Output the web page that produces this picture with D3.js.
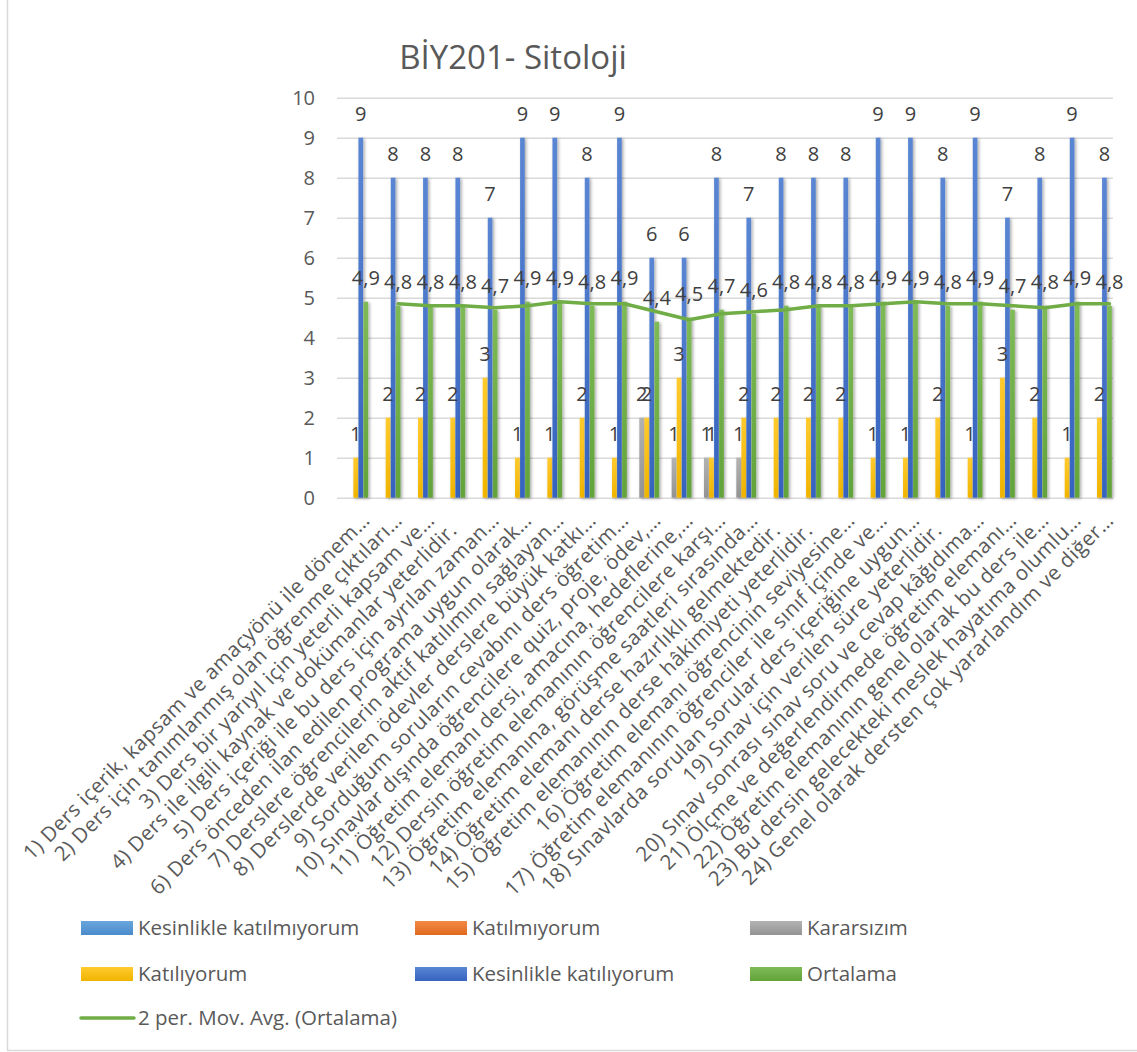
<!DOCTYPE html>
<html>
<head>
<meta charset="utf-8">
<script src="https://cdn.jsdelivr.net/npm/d3@7"></script>
<style>
  html, body { margin: 0; padding: 0; background: #fff; }
  svg { display: block; font-family: "Open Sans", "Noto Sans", sans-serif; }
</style>
</head>
<body>
<svg id="chart" width="1137" height="1052"></svg>
<script>
// ---------- DATA ----------
const chartTitle = "BİY201- Sitoloji";

const categories = [
  "1) Ders içerik, kapsam ve amaçyönü ile dönem…",
  "2) Ders için tanımlanmış olan öğrenme çıktıları…",
  "3) Ders bir yarıyıl için yeterli kapsam ve…",
  "4) Ders ile ilgili kaynak ve dokümanlar yeterlidir.",
  "5) Ders içeriği ile bu ders için ayrılan zaman…",
  "6) Ders önceden ilan edilen programa uygun olarak…",
  "7) Derslere öğrencilerin aktif katılımını sağlayan…",
  "8) Derslerde verilen ödevler derslere büyük katkı…",
  "9) Sorduğum soruların cevabını ders öğretim…",
  "10) Sınavlar dışında öğrencilere quiz, proje, ödev,…",
  "11) Öğretim elemanı dersi, amacına, hedeflerine,…",
  "12) Dersin öğretim elemanının öğrencilere karşı…",
  "13) Öğretim elemanına, görüşme saatleri sırasında…",
  "14) Öğretim elemanı derse hazırlıklı gelmektedir.",
  "15) Öğretim elemanının derse hâkimiyeti yeterlidir.",
  "16) Öğretim elemanı öğrencinin seviyesine…",
  "17) Öğretim elemanının öğrenciler ile sınıf içinde ve…",
  "18) Sınavlarda sorulan sorular ders içeriğine uygun…",
  "19) Sınav için verilen süre yeterlidir.",
  "20) Sınav sonrası sınav soru ve cevap kâğıdıma…",
  "21) Ölçme ve değerlendirmede öğretim elemanı…",
  "22) Öğretim elemanının genel olarak bu ders ile…",
  "23) Bu dersin gelecekteki meslek hayatıma olumlu…",
  "24) Genel olarak dersten çok yararlandım ve diğer…"
];

const seriesNames = [
  "Kesinlikle katılmıyorum",
  "Katılmıyorum",
  "Kararsızım",
  "Katılıyorum",
  "Kesinlikle katılıyorum",
  "Ortalama"
];

const kesinlikleKatilmiyorum = [null,null,null,null,null,null,null,null,null,null,null,null,null,null,null,null,null,null,null,null,null,null,null,null];
const katilmiyorum           = [null,null,null,null,null,null,null,null,null,null,null,null,null,null,null,null,null,null,null,null,null,null,null,null];
const kararsizim             = [null,null,null,null,null,null,null,null,null,2,1,1,1,null,null,null,null,null,null,null,null,null,null,null];
const katiliyorum            = [1,2,2,2,3,1,1,2,1,2,3,1,2,2,2,2,1,1,2,1,3,2,1,2];
const kesinlikleKatiliyorum  = [9,8,8,8,7,9,9,8,9,6,6,8,7,8,8,8,9,9,8,9,7,8,9,8];
const ortalama               = [4.9,4.8,4.8,4.8,4.7,4.9,4.9,4.8,4.9,4.4,4.5,4.7,4.6,4.8,4.8,4.8,4.9,4.9,4.8,4.9,4.7,4.8,4.9,4.8];

// 2-period moving average trendline of "Ortalama"
const trendName = "2 per. Mov. Avg. (Ortalama)";
const movAvg = [null,4.85,4.8,4.8,4.75,4.8,4.9,4.85,4.85,4.65,4.45,4.6,4.65,4.7,4.8,4.8,4.85,4.9,4.85,4.85,4.8,4.75,4.85,4.85];

const yTicks = [0,1,2,3,4,5,6,7,8,9,10];

// ---------- STYLE ----------
const seriesColors = {
  "Kesinlikle katılmıyorum": ["#6aa6dd", "#4a8bcb"],
  "Katılmıyorum":            ["#f28a45", "#e06a1e"],
  "Kararsızım":              ["#b3b3b3", "#939393"],
  "Katılıyorum":             ["#ffcb2e", "#f0b400"],
  "Kesinlikle katılıyorum":  ["#5a86d3", "#3563bf"],
  "Ortalama":                ["#7ebb57", "#62a33a"]
};
const trendColor = "#70AD47";
const textColor = "#595959";
const labelColor = "#404040";

const seriesData = [kesinlikleKatilmiyorum, katilmiyorum, kararsizim, katiliyorum, kesinlikleKatiliyorum, ortalama];

// ---------- LAYOUT ----------
const svg = d3.select("#chart");
const plot = { left: 337, right: 1113, top: 97.7, bottom: 497.7 };

const defs = svg.append("defs");
seriesNames.forEach((name, i) => {
  const g = defs.append("linearGradient").attr("id", "grad" + i)
    .attr("x1", 0).attr("y1", 0).attr("x2", 0).attr("y2", 1);
  g.append("stop").attr("offset", "0%").attr("stop-color", seriesColors[name][0]);
  g.append("stop").attr("offset", "100%").attr("stop-color", seriesColors[name][1]);
});
const sh = defs.append("filter").attr("id", "shadow")
  .attr("x", "-200%").attr("y", "-10%").attr("width", "500%").attr("height", "120%");
sh.append("feDropShadow").attr("dx", 1.5).attr("dy", 1).attr("stdDeviation", 1.6)
  .attr("flood-color", "#000").attr("flood-opacity", 0.35);

// chart frame
svg.append("rect")
  .attr("x", 7.5).attr("y", -10).attr("width", 1150).attr("height", 1060.5)
  .attr("fill", "none").attr("stroke", "#d9d9d9").attr("stroke-width", 1.5);

// title
svg.append("text")
  .attr("x", 513).attr("y", 69)
  .attr("text-anchor", "middle")
  .attr("font-size", 33)
  .attr("fill", textColor)
  .text(chartTitle);

// scales
const idx = categories.map((d, i) => i);
const x0 = d3.scaleBand().domain(idx).range([plot.left, plot.right])
  .paddingInner(0.073).paddingOuter(0.0365);
const x1 = d3.scaleBand().domain(seriesNames).range([0, x0.bandwidth()]).paddingInner(0.08);
const y = d3.scaleLinear().domain([0, 10]).range([plot.bottom, plot.top]);

// gridlines
svg.append("g")
  .attr("transform", `translate(${plot.left},0)`)
  .call(d3.axisLeft(y).tickValues(yTicks).tickSize(-(plot.right - plot.left)).tickFormat(""))
  .call(g => g.select(".domain").remove())
  .call(g => g.selectAll("line").attr("stroke", "#d9d9d9").attr("stroke-width", 1.5));

// y axis labels
svg.append("g")
  .attr("transform", `translate(${plot.left},0)`)
  .call(d3.axisLeft(y).tickValues(yTicks).tickSize(0).tickPadding(22).tickFormat(d3.format("d")))
  .call(g => g.select(".domain").remove())
  .call(g => g.selectAll("text").attr("font-size", 20).attr("fill", textColor)
    .attr("font-family", "'Open Sans', sans-serif"));

// bars
const fmt = v => String(v).replace(".", ",");
const catG = svg.append("g").selectAll("g").data(idx).join("g")
  .attr("transform", i => `translate(${x0(i)},0)`);

catG.selectAll("rect")
  .data(i => seriesNames.map((s, k) => ({ s, k, v: seriesData[k][i] })).filter(d => d.v != null))
  .join("rect")
  .attr("x", d => x1(d.s))
  .attr("width", x1.bandwidth())
  .attr("y", d => y(d.v))
  .attr("height", d => y(0) - y(d.v))
  .attr("fill", d => `url(#grad${d.k})`)
  .attr("filter", "url(#shadow)");

// trendline (moving average) drawn at Ortalama bar positions
const line = d3.line()
  .defined(d => d.v != null)
  .x(d => x0(d.i) + x1("Ortalama") + x1.bandwidth() / 2)
  .y(d => y(d.v))
  .curve(d3.curveLinear);
svg.append("path")
  .datum(movAvg.map((v, i) => ({ v, i })))
  .attr("d", line)
  .attr("fill", "none")
  .attr("stroke", trendColor)
  .attr("stroke-width", 3.5)
  .attr("stroke-linejoin", "round")
  .attr("stroke-linecap", "round");

// data labels
catG.selectAll("text.dl")
  .data(i => seriesNames.map((s, k) => ({ s, k, v: seriesData[k][i] })).filter(d => d.v != null))
  .join("text")
  .attr("class", "dl")
  .attr("x", d => x1(d.s) + x1.bandwidth() / 2)
  .attr("y", d => y(d.v) - 17)
  .attr("text-anchor", "middle")
  .attr("font-size", 20)
  .attr("fill", labelColor)
  .text(d => fmt(d.v));

// x axis labels
svg.append("g")
  .attr("transform", `translate(0,${plot.bottom})`)
  .call(d3.axisBottom(x0).tickSize(0).tickFormat(i => categories[i]))
  .call(g => g.select(".domain").remove())
  .call(g => g.selectAll("text")
    .attr("font-size", 20.5)
    .attr("letter-spacing", "0.5px")
    .attr("fill", textColor)
    .attr("font-family", "'Open Sans', sans-serif")
    .attr("text-anchor", "end")
    .attr("y", 0).attr("dy", 0)
    .attr("dx", t => categories[t].endsWith("…") ? 0 : -14)
    .attr("transform", "translate(18,24) rotate(-45)"));

// legend
const legendItems = seriesNames.map((n, k) => ({ name: n, k, type: "rect" }))
  .concat([{ name: trendName, type: "line" }]);
const colX = [81, 415, 750];
const rowY = [928, 974, 1018];
const lg = svg.append("g").selectAll("g").data(legendItems).join("g")
  .attr("transform", (d, i) => `translate(${colX[i % 3]},${rowY[Math.floor(i / 3)]})`);
lg.filter(d => d.type === "rect").append("rect")
  .attr("x", 0).attr("y", -7).attr("width", 52).attr("height", 14)
  .attr("fill", d => `url(#grad${d.k})`);
lg.filter(d => d.type === "line").append("line")
  .attr("x1", 0).attr("x2", 53).attr("y1", 0).attr("y2", 0)
  .attr("stroke", trendColor).attr("stroke-width", 3.5).attr("stroke-linecap", "round");
lg.append("text")
  .attr("x", 57).attr("y", 0).attr("dy", "0.36em")
  .attr("font-size", 20.5)
  .attr("fill", textColor)
  .text(d => d.name);
</script>
</body>
</html>
